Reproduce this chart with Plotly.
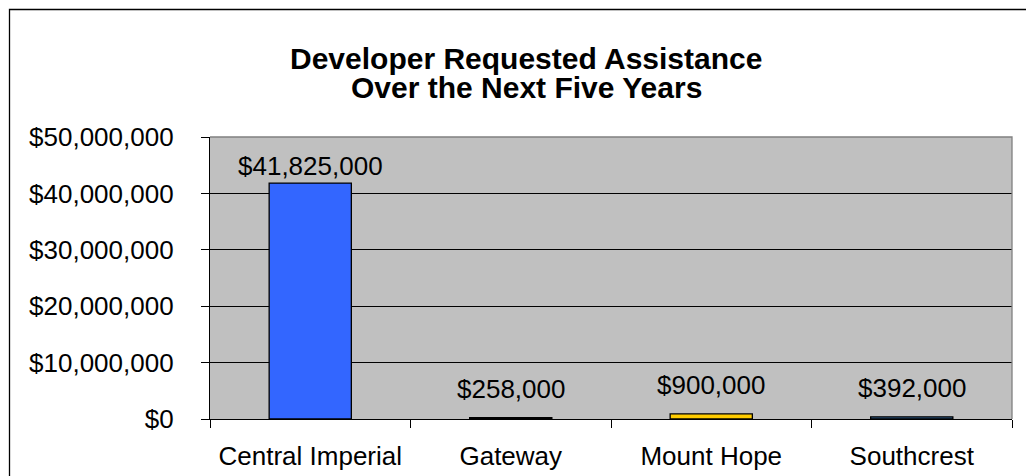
import plotly.graph_objects as go

categories = ["Central Imperial", "Gateway", "Mount Hope", "Southcrest"]
values = [41825000, 258000, 900000, 392000]
value_labels = ["$41,825,000", "$258,000", "$900,000", "$392,000"]
bar_colors = ["#3366FF", "#993366", "#FFCC00", "#336699"]
label_shift = [0, 12, 12, 12]
y_tickvals = [0, 10000000, 20000000, 30000000, 40000000, 50000000]
y_ticktext = ["$0", "$10,000,000", "$20,000,000", "$30,000,000", "$40,000,000", "$50,000,000"]
title_lines = ["Developer Requested Assistance", "Over the Next Five Years"]

W, H = 1026, 476
L, R, T, B = 210, 14, 137, 57
pw, ph = W - L - R, H - T - B

def px_x(x):
    return (x - L) / pw

def px_y(y):
    return (H - B - y) / ph

FONT = "Liberation Sans, Arial, sans-serif"

fig = go.Figure()
fig.add_trace(go.Bar(
    x=categories, y=values,
    marker=dict(color=bar_colors, line=dict(color="#000000", width=1.3)),
    hoverinfo="skip",
))

annotations = []
for c, v, t, s in zip(categories, values, value_labels, label_shift):
    annotations.append(dict(x=c, y=v, xref="x", yref="y", text=t, showarrow=False,
                            yanchor="bottom", yshift=s,
                            font=dict(family=FONT, size=26, color="#000000")))
for i, line in enumerate(title_lines):
    annotations.append(dict(x=px_x(526), y=px_y(58 + 29 * i), xref="paper", yref="paper",
                            text="<b>%s</b>" % line, showarrow=False,
                            xanchor="center", yanchor="middle",
                            font=dict(family=FONT, size=30, color="#000000")))

shapes = [
    # outer chart border (extends beyond image on right/bottom)
    dict(type="rect", xref="paper", yref="paper",
         x0=px_x(9.5), y0=px_y(490), x1=px_x(1040), y1=px_y(9.5),
         line=dict(color="#000000", width=1.3), fillcolor="rgba(0,0,0,0)", layer="below"),
    # plot area top/right gray border
    dict(type="path", xref="paper", yref="paper",
         path="M 0 1 L 1 1 L 1 0", line=dict(color="#808080", width=1.3), layer="above"),
]

fig.update_layout(
    width=W, height=H,
    margin=dict(l=L, r=R, t=T, b=B, pad=0, autoexpand=False),
    paper_bgcolor="#FFFFFF", plot_bgcolor="#C0C0C0",
    showlegend=False,
    bargap=0.59,
    annotations=annotations,
    shapes=shapes,
    font=dict(family=FONT, size=26, color="#000000"),
)
fig.update_xaxes(
    type="category", showgrid=False, showline=True, linecolor="#000000", linewidth=1.3,
    ticks="outside", ticklen=8, tickcolor="#000000", tickwidth=1.3, tickson="boundaries",
    ticklabelstandoff=14, automargin=False,
    tickfont=dict(family=FONT, size=26, color="#000000"),
)
fig.update_yaxes(
    range=[0, 50000000], tickvals=y_tickvals, ticktext=y_ticktext,
    showgrid=True, gridcolor="#000000", gridwidth=1.1,
    showline=True, linecolor="#000000", linewidth=1.3,
    ticks="outside", ticklen=8, tickcolor="#000000", tickwidth=1.3,
    ticklabelstandoff=22, zeroline=False, automargin=False,
    tickfont=dict(family=FONT, size=26, color="#000000"),
)

fig.write_html("out.html")
